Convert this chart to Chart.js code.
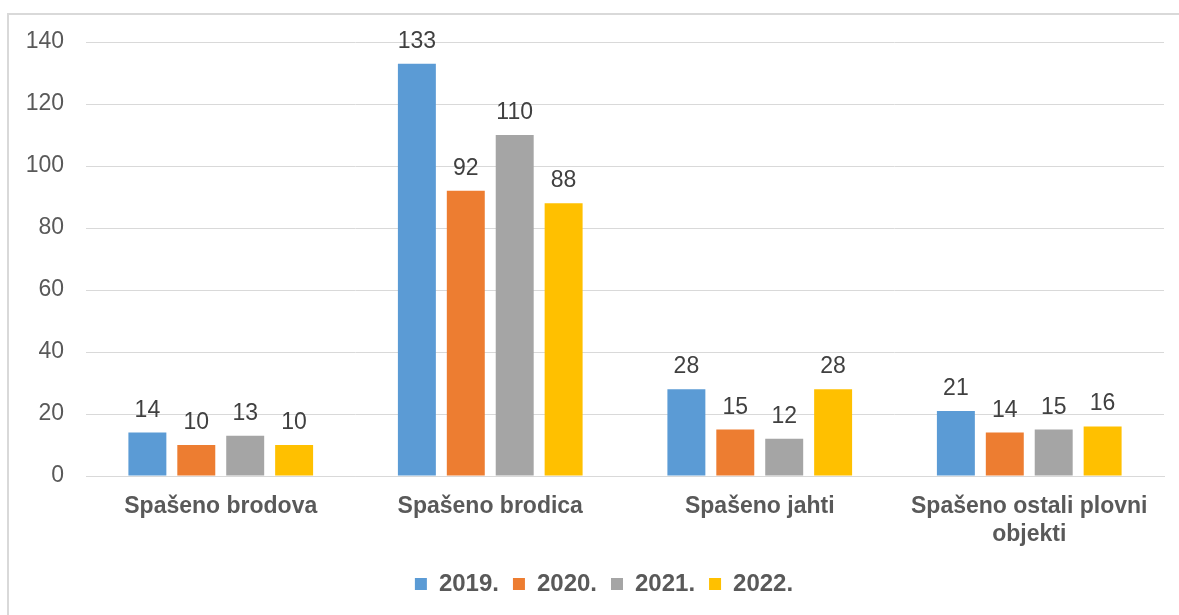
<!DOCTYPE html>
<html>
<head>
<meta charset="utf-8">
<script src="https://cdn.jsdelivr.net/npm/chart.js@4/dist/chart.umd.min.js"></script>
<style>
  html, body { margin: 0; padding: 0; background: #fff; }
  #wrap { position: relative; width: 1179px; height: 615px; overflow: hidden; }
  #frame { position: absolute; left: 7px; top: 13px; width: 1200px; height: 700px;
           border-top: 2px solid #d9d9d9; border-left: 2px solid #d9d9d9; pointer-events: none; }
  canvas { position: absolute; left: 0; top: 0; }
</style>
</head>
<body>
<div id="wrap">
  <div id="frame"></div>
  <canvas id="c" width="1179" height="615"></canvas>
</div>
<script>
const categories = ["Spašeno brodova", "Spašeno brodica", "Spašeno jahti", ["Spašeno ostali plovni", "objekti"]];
const seriesNames = ["2019.", "2020.", "2021.", "2022."];
const values2019 = [14, 133, 28, 21];
const values2020 = [10, 92, 15, 14];
const values2021 = [13, 110, 12, 15];
const values2022 = [10, 88, 28, 16];
const colors = ["#5B9BD5", "#ED7D31", "#A5A5A5", "#FFC000"];
const yTicks = [0, 20, 40, 60, 80, 100, 120, 140];

const FONT = "'Liberation Sans', Arial, sans-serif";

const valueLabels = {
  id: 'valueLabels',
  afterDatasetsDraw(chart) {
    const ctx = chart.ctx;
    ctx.save();
    ctx.font = "23px " + FONT;
    ctx.fillStyle = "#404040";
    ctx.textAlign = "center";
    ctx.textBaseline = "alphabetic";
    chart.data.datasets.forEach((ds, i) => {
      const meta = chart.getDatasetMeta(i);
      meta.data.forEach((bar, j) => {
        ctx.fillText(String(ds.data[j]), bar.x, bar.y - 16);
      });
    });
    ctx.restore();
  }
};

const legendShift = {
  id: 'legendShift',
  afterLayout(chart) {
    if (chart.legend) { chart.legend.left += 22; chart.legend.right += 22; }
  }
};

const allSeries = [values2019, values2020, values2021, values2022];

new Chart(document.getElementById('c'), {
  type: 'bar',
  data: {
    labels: categories,
    datasets: allSeries.map((vals, i) => ({
      label: seriesNames[i],
      data: vals,
      backgroundColor: colors[i],
      borderWidth: 0,
      categoryPercentage: 0.726,
      barPercentage: 0.776
    }))
  },
  options: {
    responsive: false,
    animation: false,
    layout: { padding: { left: 0, right: 15, top: 42, bottom: 9 } },
    plugins: {
      tooltip: { enabled: false },
      legend: {
        position: 'bottom',
        labels: {
          boxWidth: 12, boxHeight: 12, padding: 14,
          color: '#595959',
          font: { family: FONT, size: 24, weight: 'bold' }
        }
      }
    },
    scales: {
      x: {
        grid: { display: false, drawTicks: false },
        border: { color: '#d9d9d9', width: 1 },
        ticks: {
          color: '#595959', padding: 17, maxRotation: 0, autoSkip: false,
          font: { family: FONT, size: 23, weight: 'bold', lineHeight: 1.2 }
        },
        afterFit(scale) { scale.height = 82; }
      },
      y: {
        min: 0, max: 140,
        afterBuildTicks(scale) { scale.ticks = yTicks.map(v => ({ value: v })); },
        grid: { color: '#d9d9d9', lineWidth: 1, drawTicks: false },
        border: { display: false },
        ticks: {
          color: '#595959', padding: 22,
          font: { family: FONT, size: 23 }
        },
        afterFit(scale) { scale.width = 86; }
      }
    }
  },
  plugins: [valueLabels, legendShift]
});
</script>
</body>
</html>
